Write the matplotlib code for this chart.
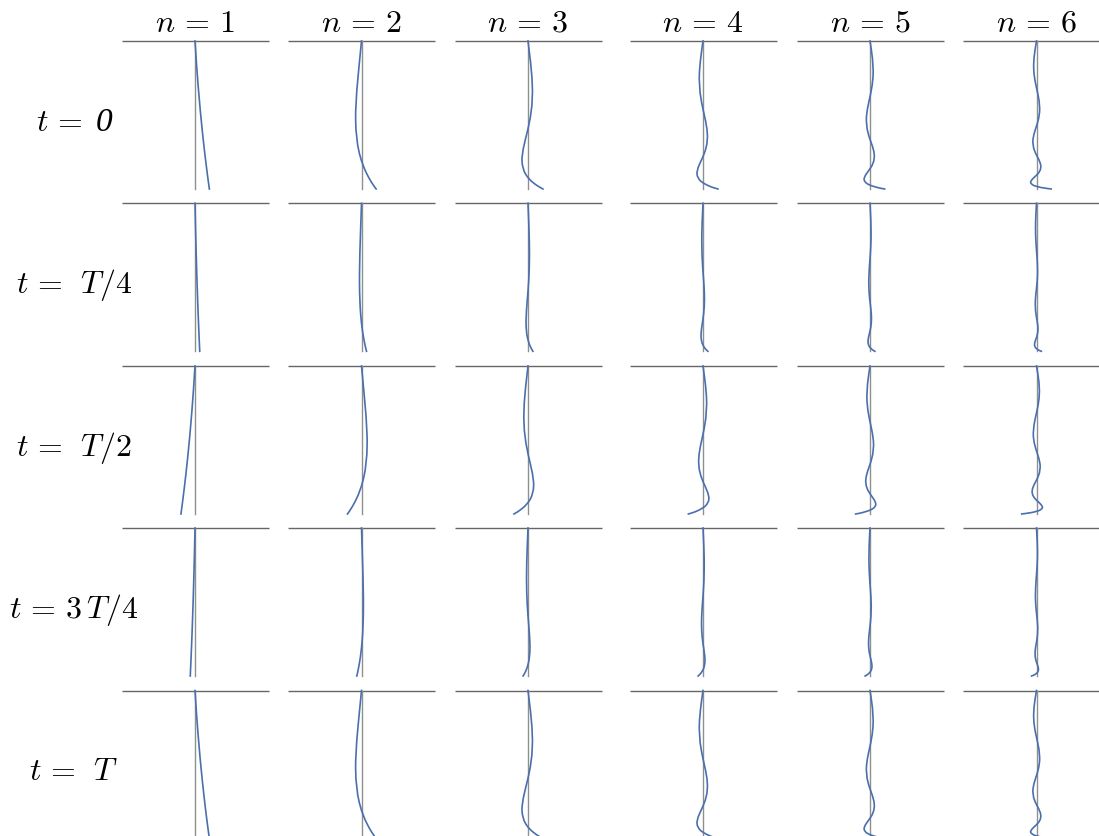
import matplotlib
matplotlib.use("Agg")
import matplotlib.pyplot as plt
import numpy as np

plt.rcParams['mathtext.fontset'] = 'cm'
plt.rcParams['font.family'] = ['DejaVu Serif']

# ---------------- data ----------------
# column titles and row labels
col_labels = [r'$n\,=\,1$', r'$n\,=\,2$', r'$n\,=\,3$', r'$n\,=\,4$', r'$n\,=\,5$', r'$n\,=\,6$']
row_labels = [r'$t\,=$', r'$t\,=\;\,T/4$', r'$t\,=\;\,T/2$', r'$t\,=\,3\,T/4$', r'$t\,=\;\,T$']
row0_value = '0'   # the italic "0" of the first row label

# mode shapes: depth below suspension point (0 = top, 1 = free end)
# and horizontal displacement relative to the free-end displacement
depth_n1 = [0, 0.163, 0.308, 0.471, 0.611, 0.730, 0.827, 0.903, 0.957, 1.0]
shape_n1 = [0, 0.110, 0.224, 0.369, 0.512, 0.646, 0.765, 0.864, 0.939, 1.0]

depth_n2 = [0, 0.095, 0.180, 0.335, 0.475, 0.518, 0.598, 0.705, 0.761, 0.810,
            0.869, 0.899, 0.926, 0.949, 0.967, 0.982, 0.992, 1.0]
shape_n2 = [0, -0.093, -0.178, -0.321, -0.397, -0.403, -0.380, -0.260, -0.142, 0,
            0.224, 0.369, 0.512, 0.646, 0.765, 0.864, 0.939, 1.0]

depth_n3 = [0, 0.080, 0.145, 0.249, 0.343, 0.436, 0.519, 0.593, 0.666, 0.730, 0.786,
            0.804, 0.836, 0.880, 0.903, 0.923, 0.947, 0.959, 0.970, 0.979, 0.987,
            0.992, 0.997, 1.0]
shape_n3 = [0, 0.096, 0.172, 0.266, 0.300, 0.260, 0.151, 0, -0.178, -0.321, -0.397,
            -0.403, -0.380, -0.260, -0.142, 0, 0.224, 0.369, 0.512, 0.646, 0.765,
            0.864, 0.939, 1.0]

depth_n4 = [0, 0.065, 0.130, 0.207, 0.256, 0.351, 0.417, 0.461, 0.540, 0.595, 0.646,
            0.696, 0.741, 0.781, 0.820, 0.854, 0.885, 0.894, 0.912, 0.935, 0.948,
            0.958, 0.971, 0.978, 0.984, 0.989, 0.993, 0.996, 0.998, 1.0]
shape_n4 = [0, -0.090, -0.171, -0.237, -0.250, -0.194, -0.090, 0, 0.172, 0.266, 0.300,
            0.260, 0.151, 0, -0.178, -0.321, -0.397, -0.403, -0.380, -0.260, -0.142,
            0, 0.224, 0.369, 0.512, 0.646, 0.765, 0.864, 0.939, 1.0]

depth_n5 = [0, 0.057, 0.121, 0.204, 0.242, 0.299, 0.354, 0.376, 0.417, 0.457, 0.505,
            0.536, 0.595, 0.637, 0.664, 0.713, 0.748, 0.779, 0.810, 0.839, 0.863,
            0.888, 0.909, 0.928, 0.934, 0.945, 0.960, 0.967, 0.974, 0.982, 0.986,
            0.990, 0.993, 0.996, 0.997, 0.999, 1.0]
shape_n5 = [0, 0.088, 0.171, 0.218, 0.207, 0.147, 0.048, 0, -0.090, -0.171, -0.237,
            -0.250, -0.194, -0.090, 0, 0.172, 0.266, 0.300, 0.260, 0.151, 0,
            -0.178, -0.321, -0.397, -0.403, -0.380, -0.260, -0.142, 0, 0.224, 0.369,
            0.512, 0.646, 0.765, 0.864, 0.939, 1.0]

depth_n6 = [0, 0.062, 0.115, 0.169, 0.216, 0.264, 0.317, 0.356, 0.400, 0.457, 0.482,
            0.522, 0.559, 0.574, 0.602, 0.629, 0.662, 0.683, 0.724, 0.752, 0.771,
            0.804, 0.828, 0.849, 0.871, 0.890, 0.907, 0.923, 0.938, 0.951, 0.955,
            0.962, 0.972, 0.978, 0.982, 0.988, 0.991, 0.993, 0.995, 0.997, 0.998,
            0.999, 1.0]
shape_n6 = [0, -0.103, -0.170, -0.197, -0.175, -0.109, 0, 0.088, 0.171, 0.218, 0.207,
            0.147, 0.048, 0, -0.090, -0.171, -0.237, -0.250, -0.194, -0.090, 0,
            0.172, 0.266, 0.300, 0.260, 0.151, 0, -0.178, -0.321, -0.397, -0.403,
            -0.380, -0.260, -0.142, 0, 0.224, 0.369, 0.512, 0.646, 0.765, 0.864,
            0.939, 1.0]

depths = [depth_n1, depth_n2, depth_n3, depth_n4, depth_n5, depth_n6]
shapes = [shape_n1, shape_n2, shape_n3, shape_n4, shape_n5, shape_n6]

# free-end displacement (in chain lengths) for each time (row) and mode (column)
amp_t0 = [0.097, 0.099, 0.101, 0.101, 0.099, 0.099]
amp_tT4 = [0.032, 0.034, 0.033, 0.033, 0.033, 0.033]
amp_tT2 = [-0.095, -0.095, -0.095, -0.099, -0.097, -0.100]
amp_t3T4 = [-0.032, -0.032, -0.033, -0.033, -0.033, -0.033]
amp_tT = [0.097, 0.099, 0.101, 0.101, 0.099, 0.099]
amps = [amp_t0, amp_tT4, amp_tT2, amp_t3T4, amp_tT]

# ---------------- layout ----------------
W, H = 1099, 836
fig = plt.figure(figsize=(W / 100, H / 100), dpi=100)
col_cx = [195, 361.5, 528, 703, 870, 1036.5]
row_top = [41, 203.3, 366, 528, 690.5]
cell_w = 147.0
chain_len = 148.0
half = cell_w / 2 / chain_len

curve_color = '#4a6fad'
for r, top in enumerate(row_top):
    for c, cx in enumerate(col_cx):
        ax = fig.add_axes([(cx - cell_w / 2) / W, 1 - (top + chain_len) / H,
                           cell_w / W, chain_len / H])
        ax.set_xlim(-half, half)
        ax.set_ylim(1, 0)
        ax.axis('off')
        ax.plot([-half, half], [0, 0], color='#666666', lw=1.0, clip_on=False,
                solid_capstyle='butt', zorder=1)
        ax.plot([0, 0], [0, 1], color='#8f8f8f', lw=1.0, clip_on=False, zorder=2)
        x = np.asarray(shapes[c]) * amps[r][c]
        ax.plot(x, depths[c], color=curve_color, lw=1.2, clip_on=False, zorder=3,
                solid_joinstyle='round')

FS = 23
for c, cx in enumerate(col_cx):
    fig.text(cx / W, 1 - 32 / H, col_labels[c], ha='center', va='baseline',
             fontsize=FS)
for r, top in enumerate(row_top):
    if r == 0:
        fig.text(83 / W, 1 - (top + 90) / H, row_labels[r], ha='right',
                 va='baseline', fontsize=FS)
        fig.text(96 / W, 1 - (top + 90) / H, row0_value, ha='left', va='baseline',
                 fontsize=FS + 1, family='Liberation Serif', style='italic')
    else:
        fig.text(74 / W, 1 - (top + 90) / H, row_labels[r], ha='center',
                 va='baseline', fontsize=FS)

fig.savefig('out.png', dpi=100)
